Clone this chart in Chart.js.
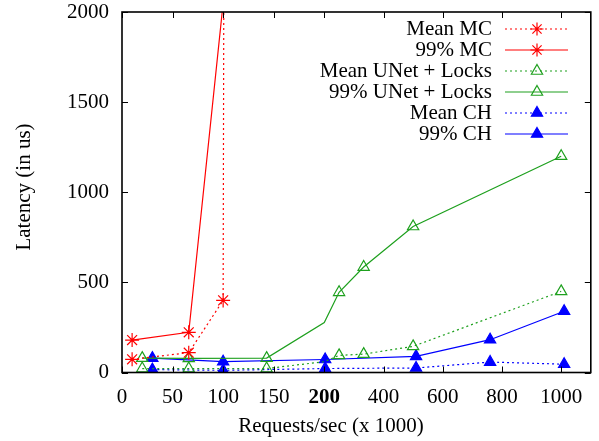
<!DOCTYPE html>
<html>
<head>
<meta charset="utf-8">
<script src="https://cdn.jsdelivr.net/npm/chart.js@4.4.0/dist/chart.umd.min.js"></script>
<style>
  html, body { margin: 0; padding: 0; background: #fff; }
  .chart-container { width: 599px; height: 441px; position: relative; }
</style>
</head>
<body>
<div class="chart-container"><canvas id="myChart"></canvas></div>
<script>
// tick labels
const xTicks = [0, 50, 100, 150, 200, 400, 600, 800, 1000];
const yTicks = [0, 500, 1000, 1500, 2000];

// series (requests/sec in thousands, latency in us)
const meanMcX = [10, 66, 100, 101];
const meanMcY = [73, 110, 400, 3000];
const p99McX = [10, 66, 100];
const p99McY = [180, 223, 2050];

const meanUnetX = [20, 66, 143, 200, 250, 333, 500, 1000];
const meanUnetY = [22, 22, 22, 60, 95, 102, 145, 450];
const p99UnetX = [20, 66, 143, 200, 250, 333, 500, 1000];
const p99UnetY = [80, 78, 80, 277, 445, 585, 810, 1200];

const meanChX = [30, 100, 203, 510, 760, 1010];
const meanChY = [16, 12, 22, 25, 58, 46];
const p99ChX = [30, 100, 203, 510, 760, 1010];
const p99ChY = [80, 60, 72, 90, 182, 340];

// x axis is stretched below 200 and compressed above it
const K = 0.2928;
const warp = x => x <= 200 ? x : 200 + (x - 200) * K;

const FONT = "'Liberation Serif', 'Times New Roman', serif";
const FS = 21;
const RED = "#ff0000", GREEN = "#1ea01e", BLUE = "#0000ff";
const DOT = [2, 3];

const pts = (xs, ys) => xs.map((x, i) => ({ x: warp(x), y: ys[i] }));

const datasets = [
  { label: "Mean MC", data: pts(meanMcX, meanMcY), borderColor: RED, backgroundColor: RED,
    borderDash: DOT, pointStyle: "star", pointRadius: 7 },
  { label: "99% MC", data: pts(p99McX, p99McY), borderColor: RED, backgroundColor: RED,
    pointStyle: "star", pointRadius: [7, 7, 0] },
  { label: "Mean UNet + Locks", data: pts(meanUnetX, meanUnetY), borderColor: GREEN,
    backgroundColor: "rgba(0,0,0,0)", borderDash: DOT, pointStyle: "triangle",
    pointRadius: [6.5, 6.5, 6.5, 0, 6.5, 6.5, 6.5, 6.5] },
  { label: "99% UNet + Locks", data: pts(p99UnetX, p99UnetY), borderColor: GREEN,
    backgroundColor: "rgba(0,0,0,0)", pointStyle: "triangle",
    pointRadius: [6.5, 6.5, 6.5, 0, 6.5, 6.5, 6.5, 6.5] },
  { label: "Mean CH", data: pts(meanChX, meanChY), borderColor: BLUE, backgroundColor: BLUE,
    borderDash: DOT, pointStyle: "triangle", pointRadius: 6.5 },
  { label: "99% CH", data: pts(p99ChX, p99ChY), borderColor: BLUE, backgroundColor: BLUE,
    pointStyle: "triangle", pointRadius: 6.5 }
];
datasets.forEach(d => {
  d.borderWidth = 1.2;
  d.pointBorderWidth = 1.2;
  d.fill = false;
  d.tension = 0;
  d.pointHoverRadius = d.pointRadius;
});

// box around the plot, inward ticks on all four sides, axis titles
const framePlugin = {
  id: "frame",
  afterDatasetsDraw(chart) {
    const { ctx, chartArea: a, scales } = chart;
    ctx.save();
    ctx.strokeStyle = "#000";
    ctx.lineWidth = 1;
    ctx.beginPath();
    xTicks.forEach(v => {
      const px = Math.round(scales.x.getPixelForValue(warp(v))) + 0.5;
      ctx.moveTo(px, a.bottom); ctx.lineTo(px, a.bottom - 6);
      ctx.moveTo(px, a.top); ctx.lineTo(px, a.top + 6);
    });
    yTicks.forEach(v => {
      const py = Math.round(scales.y.getPixelForValue(v)) + 0.5;
      ctx.moveTo(a.left, py); ctx.lineTo(a.left + 6, py);
      ctx.moveTo(a.right, py); ctx.lineTo(a.right - 6, py);
    });
    ctx.stroke();
    ctx.lineWidth = 1.6;
    ctx.strokeRect(a.left, a.top, a.right - a.left, a.bottom - a.top);

    ctx.fillStyle = "#000";
    ctx.font = FS + "px " + FONT;
    ctx.textAlign = "center";
    ctx.textBaseline = "alphabetic";
    ctx.fillText("Requests/sec (x 1000)", 331, 432);
    ctx.translate(30, 187);
    ctx.rotate(-Math.PI / 2);
    ctx.fillText("Latency (in us)", 0, 0);
    ctx.restore();
  }
};

// gnuplot style key: text right aligned, sample on the right
const keyPlugin = {
  id: "key",
  afterDraw(chart) {
    const { ctx } = chart;
    ctx.save();
    ctx.font = FS + "px " + FONT;
    ctx.textAlign = "right";
    ctx.textBaseline = "middle";
    chart.data.datasets.forEach((d, i) => {
      const y = 29 + i * 21;
      ctx.fillStyle = "#000";
      ctx.fillText(d.label, 492, y);
      ctx.strokeStyle = d.borderColor;
      ctx.lineWidth = d.borderWidth;
      ctx.setLineDash(d.borderDash || []);
      ctx.beginPath();
      ctx.moveTo(505, y); ctx.lineTo(568, y);
      ctx.stroke();
      ctx.setLineDash([]);
      ctx.fillStyle = d.backgroundColor;
      Chart.helpers.drawPoint(ctx, {
        pointStyle: d.pointStyle, radius: 6.5, rotation: 0, borderWidth: d.pointBorderWidth
      }, 537, y);
    });
    ctx.restore();
  }
};

const noPad = s => { s.paddingTop = 0; s.paddingBottom = 0; s.paddingLeft = 0; s.paddingRight = 0; };

new Chart(document.getElementById("myChart"), {
  type: "line",
  data: { datasets },
  options: {
    responsive: true,
    maintainAspectRatio: false,
    animation: false,
    events: [],
    layout: { padding: { top: 12, right: 6, left: 0, bottom: 0 } },
    plugins: { legend: { display: false }, tooltip: { enabled: false } },
    scales: {
      x: {
        type: "linear",
        min: 0,
        max: warp(1100),
        grid: { display: false, drawTicks: false },
        border: { display: false },
        afterBuildTicks: s => { s.ticks = xTicks.map(v => ({ value: warp(v) })); },
        afterFit: s => { s.height = 68.5; noPad(s); },
        ticks: {
          autoSkip: false, maxRotation: 0, padding: 12, color: "#000",
          callback: (v, i) => String(xTicks[i]),
          font: c => ({ family: FONT, size: FS,
            weight: (c.tick && c.tick.value === 200) ? "bold" : "normal" })
        }
      },
      y: {
        min: 0,
        max: 2000,
        grid: { display: false, drawTicks: false },
        border: { display: false },
        afterBuildTicks: s => { s.ticks = yTicks.map(v => ({ value: v })); },
        afterFit: s => { s.width = 122; noPad(s); },
        ticks: { padding: 13, color: "#000", font: { family: FONT, size: FS },
          callback: v => String(v) }
      }
    }
  },
  plugins: [framePlugin, keyPlugin]
});
</script>
</body>
</html>
